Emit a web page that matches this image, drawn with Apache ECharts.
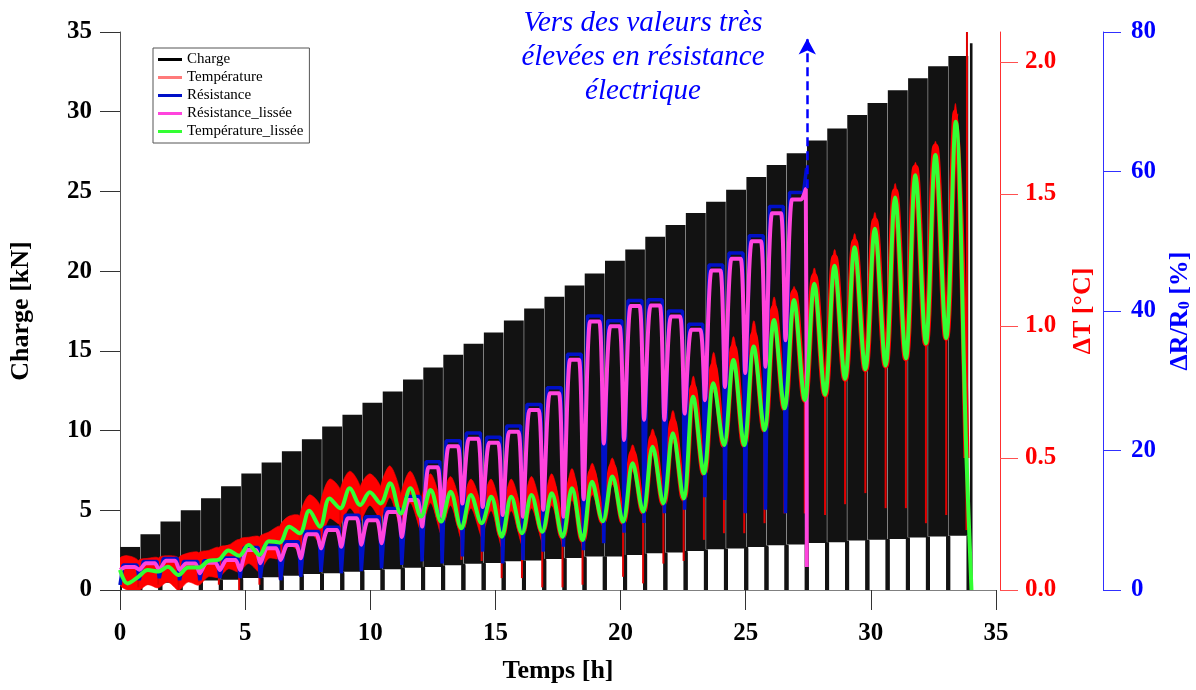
<!DOCTYPE html>
<html><head><meta charset="utf-8">
<script src="https://cdn.jsdelivr.net/npm/echarts@6/dist/echarts.min.js"></script>
<style>html,body{margin:0;padding:0;background:#fff}#c{width:1196px;height:690px}</style>
</head><body><div id="c"></div>
<script>
// ---- data ----
// cycle boundaries [h]
const boundaries = [0,0.81,1.61,2.42,3.23,4.03,4.84,5.65,6.46,7.26,8.07,8.88,9.68,10.49,11.30,12.11,12.91,13.72,14.53,15.33,16.14,16.95,17.76,18.56,19.37,20.18,20.98,21.79,22.60,23.41,24.21,25.02,25.83,26.63,27.44,28.25,29.05,29.86,30.67,31.48,32.28,33.09,33.90];
// Charge [kN] per loading block (max / min of the cycling)
const chargeMax = [2.7,3.5,4.3,5.0,5.75,6.5,7.3,8.0,8.7,9.45,10.25,11.0,11.75,12.45,13.2,13.95,14.75,15.45,16.15,16.9,17.65,18.4,19.1,19.85,20.65,21.35,22.15,22.9,23.65,24.35,25.1,25.9,26.65,27.4,28.2,28.95,29.8,30.55,31.35,32.1,32.85,33.5];
const chargeMin = [0.3,0.35,0.45,0.55,0.6,0.65,0.75,0.8,0.9,1.0,1.05,1.15,1.25,1.3,1.4,1.45,1.55,1.65,1.7,1.8,1.85,1.95,2.0,2.1,2.1,2.2,2.3,2.35,2.45,2.55,2.6,2.7,2.8,2.85,2.95,3.0,3.1,3.15,3.2,3.3,3.35,3.4];
const chargeFinalSpike = [33.95, 34.07, 0, 34.3];
// Température_lissée [°C]: value at each boundary (trough) and peak of each cycle
const tempLisseeTrough = [0.076,0.05,0.07,0.057,0.085,0.115,0.13,0.133,0.18,0.215,0.24,0.31,0.322,0.328,0.29,0.278,0.259,0.234,0.253,0.202,0.215,0.221,0.202,0.189,0.26,0.259,0.297,0.328,0.347,0.442,0.549,0.549,0.606,0.688,0.72,0.74,0.80,0.836,0.85,0.878,0.934,0.955,0.5];
const tempLisseePeak = [0.025,0.076,0.088,0.085,0.11,0.15,0.17,0.185,0.24,0.30,0.347,0.385,0.37,0.404,0.385,0.379,0.372,0.36,0.353,0.353,0.36,0.366,0.385,0.41,0.43,0.48,0.543,0.594,0.732,0.783,0.871,0.922,1.023,1.098,1.16,1.228,1.298,1.368,1.487,1.571,1.648,1.774];
const tempLisseeTail = [[34.02, 0]];
// Température (raw, noisy) [°C]: upper / lower envelope at each cycle peak and at each boundary, dips at boundaries
const tempTop = [0.13,0.12,0.13,0.14,0.15,0.17,0.2,0.22,0.28,0.36,0.42,0.45,0.44,0.47,0.45,0.44,0.43,0.42,0.42,0.42,0.43,0.44,0.46,0.48,0.5,0.55,0.61,0.68,0.81,0.9,0.96,1.02,1.11,1.15,1.22,1.29,1.35,1.43,1.54,1.62,1.70,1.84];
const tempLow = [0.0,0.02,0.03,0.03,0.05,0.08,0.1,0.12,0.17,0.22,0.27,0.31,0.32,0.35,0.33,0.33,0.32,0.31,0.30,0.30,0.31,0.32,0.34,0.36,0.40,0.45,0.51,0.56,0.70,0.75,0.84,0.89,0.99,1.06,1.12,1.19,1.26,1.33,1.45,1.53,1.61,1.73];
const tempTopAtBoundary = [0.12,0.11,0.12,0.12,0.14,0.16,0.19,0.2,0.24,0.28,0.32,0.38,0.39,0.39,0.36,0.34,0.32,0.30,0.31,0.27,0.28,0.28,0.26,0.25,0.3,0.29,0.32,0.34,0.36,0.45,0.56,0.56,0.62,0.7,0.73,0.75,0.81,0.85,0.86,0.89,0.94,0.96,0.5];
const tempLowAtBoundary = [0.02,0.0,0.01,0.0,0.02,0.05,0.07,0.07,0.12,0.15,0.18,0.25,0.26,0.27,0.23,0.22,0.21,0.19,0.2,0.16,0.17,0.18,0.17,0.16,0.24,0.24,0.28,0.32,0.34,0.43,0.54,0.54,0.6,0.68,0.71,0.73,0.79,0.83,0.84,0.87,0.93,0.95,0.5];
// Température: mid-line of the noise at each cycle peak (red halo around the smoothed curve)
const tempMid = [0.07,0.09,0.1,0.1,0.12,0.16,0.18,0.2,0.26,0.33,0.38,0.41,0.4,0.43,0.41,0.4,0.39,0.38,0.38,0.38,0.39,0.4,0.42,0.45,0.47,0.52,0.58,0.64,0.77,0.85,0.92,0.97,1.07,1.13,1.19,1.26,1.32,1.40,1.51,1.60,1.68,1.81];
const tempDip = [0.02,0.01,0.02,0.0,0.03,0.02,0.0,0.02,0.04,0.06,0.1,0.12,0.2,0.2,0.18,0.16,0.15,0.114,0.11,0.045,0.045,0.01,0.01,0.02,0.178,0.05,0.025,0.1,0.11,0.19,0.215,0.215,0.253,0.29,0.29,0.284,0.325,0.367,0.31,0.31,0.253,0.284,0.227];
const tempFinalSpike = [33.84, 0.25, 2.3];
// Résistance_lissée [%]: trough at boundaries, plateau of each cycle
const resLisseeTrough = [2.87,2.9,2.87,2.87,2.4,2.87,2.87,3.82,4.3,4.54,5.97,6.2,6.5,6.7,7.6,9.1,10.5,12.4,11.9,10.75,10.5,11.5,10.5,13.0,21.0,21.5,24.4,24.4,25.3,27.2,29.1,31.1,32.0,35.8];
const resLisseePeak = [3.3,3.82,4.2,3.8,3.9,4.3,5.73,6.0,6.45,8.0,8.6,10.3,10.0,11.2,12.9,17.6,20.6,21.7,21.1,22.7,25.8,28.2,33.0,38.5,37.8,40.7,40.8,39.2,37.3,45.8,47.5,50.0,54.0,56.0];
const resLisseeTail = [[27.40, 57.5], [27.44, 3.3]];
// Résistance (raw) [%]: deep troughs at boundaries, plateau of each cycle
const resDeep = [0.7,1.4,1.7,1.4,1.4,1.7,1.7,1.7,1.4,1.9,2.6,2.4,2.7,3.1,3.6,4.1,3.8,4.8,5.5,3.8,4.3,5.5,6.2,5.7,6.7,8.2,9.6,11.0,11.5,13.3,12.9,11.0,11.5,11.0];
const resPeak = [3.6,4.1,4.5,4.1,4.2,4.6,6.1,6.4,6.9,8.4,9.0,10.7,10.5,11.7,13.4,18.4,21.4,22.5,21.9,23.5,26.6,29.0,33.8,39.3,38.6,41.5,41.6,40.0,38.1,46.6,48.3,50.8,55.0,57.0];
const resTail = [[27.43, 60.5]];
// annotation arrow [h, kN]
const arrowX = 27.46, arrowFrom = 25.2, arrowTo = 34.6;

const xTicks = [0,5,10,15,20,25,30,35];
const tTicks = [0,0.5,1.0,1.5,2.0];

// ---- build series data from the readings ----
const chargeData = chargeMax.map((m, i) => [boundaries[i], boundaries[i+1], chargeMin[i], m]);
chargeData.push(chargeFinalSpike);

function cyclePts(first, peaks, troughs, tail) {
  const pts = [[boundaries[0], first]];
  for (let k = 1; k <= peaks.length; k++) {
    pts.push([boundaries[k-1] + 0.3, peaks[k-1]]);
    pts.push([boundaries[k] - 0.08, troughs[k]]);
  }
  if (tail) pts.push(...tail);
  return pts;
}
const greenPts = cyclePts(tempLisseeTrough[0], tempLisseePeak, tempLisseeTrough, tempLisseeTail);
const redMidPts = cyclePts(tempLisseeTrough[0], tempMid, tempLisseeTrough, null);

const bandData = tempTop.map((top, i) => {
  const k = i + 1;
  const tL = k === 1 ? boundaries[0] : boundaries[k-1] - 0.08;
  return [tL, boundaries[k-1] + 0.3, boundaries[k] - 0.08,
          tempTopAtBoundary[k-1], top, tempTopAtBoundary[k],
          tempLowAtBoundary[k], tempLow[i], tempLowAtBoundary[k-1]];
});
const dipData = tempDip.map((d, k) => [k === 0 ? boundaries[0] + 0.05 : boundaries[k] - 0.08, tempLisseeTrough[k], d]);
dipData.push(tempFinalSpike);

const magPts = [[boundaries[0], resLisseeTrough[0]]];
for (let k = 1; k <= resLisseePeak.length; k++) {
  magPts.push([boundaries[k-1] + 0.22, resLisseePeak[k-1]]);
  magPts.push([boundaries[k] - 0.22, resLisseePeak[k-1]]);
  if (k < resLisseePeak.length) magPts.push([boundaries[k] - 0.04, resLisseeTrough[k]]);
}
magPts.push(...resLisseeTail);

const bluePts = [[boundaries[0], resDeep[0]]];
for (let k = 1; k <= resPeak.length; k++) {
  bluePts.push([boundaries[k-1] + 0.12, resPeak[k-1]]);
  bluePts.push([boundaries[k] - 0.13, resPeak[k-1]]);
  if (k < resPeak.length) bluePts.push([boundaries[k] - 0.04, resDeep[k]]);
}
bluePts.push(...resTail);

// ---- chart ----
const SERIF = '"Liberation Serif","Times New Roman",serif';
const BLACK = '#121212';
const chart = echarts.init(document.getElementById('c'), null, {renderer: 'canvas'});

function renderCharge(params, api) {
  const s = api.value(0), e = api.value(1), lo = api.value(2), hi = api.value(3);
  const pTop = api.coord([s, hi]);
  const pBot = api.coord([e, lo]);
  const z0 = api.coord([s, 0]);
  const gap = 0.2, barW = 4;
  const children = [
    {type: 'rect', shape: {x: pTop[0] + gap, y: pTop[1], width: Math.max(1, pBot[0] - pTop[0] - 2 * gap), height: pBot[1] - pTop[1]}, style: {fill: BLACK}}
  ];
  if (lo > 0) {
    children.push({type: 'rect', shape: {x: pTop[0] - barW / 2, y: pBot[1], width: barW, height: z0[1] - pBot[1]}, style: {fill: BLACK}});
    children.push({type: 'rect', shape: {x: pBot[0] - barW / 2, y: pBot[1], width: barW, height: z0[1] - pBot[1]}, style: {fill: BLACK}});
  }
  return {type: 'group', children};
}
function renderBand(params, api) {
  const pts = [
    api.coord([api.value(0), api.value(3)]),
    api.coord([api.value(1), api.value(4)]),
    api.coord([api.value(2), api.value(5)]),
    api.coord([api.value(2), api.value(6)]),
    api.coord([api.value(1), api.value(7)]),
    api.coord([api.value(0), api.value(8)])
  ];
  return {type: 'polygon', shape: {points: pts, smooth: 0.3}, style: {fill: '#ff0000', stroke: '#ff0000', lineWidth: 0.6}};
}
function renderDip(params, api) {
  const a = api.coord([api.value(0), api.value(1)]);
  const b = api.coord([api.value(0), api.value(2)]);
  return {type: 'line', shape: {x1: a[0], y1: a[1], x2: b[0], y2: b[1]}, style: {stroke: '#e00000', lineWidth: 2}};
}

const labelFont = {fontFamily: SERIF, fontWeight: 'bold', fontSize: 25};
const nameFont = {fontFamily: SERIF, fontWeight: 'bold', fontSize: 26};

const option = {
  animation: false,
  backgroundColor: '#fff',
  grid: {left: 120, right: 200, top: 32, bottom: 100, containLabel: false, outerBoundsMode: 'none'},
  xAxis: {
    type: 'value', min: 0, max: 35, interval: 5,
    name: 'Temps [h]', nameLocation: 'middle', nameGap: 68,
    nameTextStyle: Object.assign({color: '#000'}, nameFont),
    axisLine: {show: true, onZero: false, lineStyle: {color: '#808080', width: 1}},
    axisTick: {show: true, length: 20, lineStyle: {color: '#333'}},
    axisLabel: Object.assign({color: '#000', margin: 31, customValues: xTicks}, labelFont),
    splitLine: {show: false}
  },
  yAxis: [
    {
      type: 'value', position: 'left', min: 0, max: 35, interval: 5,
      name: 'Charge [kN]', nameLocation: 'middle', nameRotate: 90, nameGap: 86,
      nameTextStyle: Object.assign({color: '#000'}, nameFont),
      axisLine: {show: true, onZero: false, lineStyle: {color: '#555', width: 1}},
      axisTick: {show: true, length: 20, lineStyle: {color: '#333'}},
      axisLabel: Object.assign({color: '#000', margin: 28}, labelFont),
      splitLine: {show: false}
    },
    {
      type: 'value', position: 'right', offset: 4, min: 0, max: 2.1136, interval: 0.5,
      name: 'ΔT [°C]', nameLocation: 'middle', nameRotate: 90, nameGap: 70,
      nameTextStyle: Object.assign({color: '#ff0000'}, nameFont),
      axisLine: {show: true, onZero: false, lineStyle: {color: '#ff3030', width: 1}},
      axisTick: {show: true, length: 18, lineStyle: {color: '#ff5050'}, customValues: tTicks},
      axisLabel: Object.assign({color: '#ff0000', margin: 25, customValues: tTicks, formatter: v => v.toFixed(1)}, labelFont),
      splitLine: {show: false}
    },
    {
      type: 'value', position: 'right', offset: 107, min: 0, max: 80, interval: 20,
      name: '{a|ΔR/R}{s|0}{a| [%]}', nameLocation: 'middle', nameRotate: 90, nameGap: 62,
      nameTextStyle: {color: '#0000ff', fontFamily: SERIF, fontWeight: 'bold', fontSize: 26,
        rich: {a: {color: '#0000ff', fontFamily: SERIF, fontWeight: 'bold', fontSize: 26},
               s: {color: '#0000ff', fontFamily: SERIF, fontWeight: 'bold', fontSize: 16, verticalAlign: 'bottom', padding: [0, 0, 0, 0]}}},
      axisLine: {show: true, onZero: false, lineStyle: {color: '#3030ff', width: 1}},
      axisTick: {show: true, length: 18, lineStyle: {color: '#3030ff'}},
      axisLabel: Object.assign({color: '#0000ff', margin: 28}, labelFont),
      splitLine: {show: false}
    }
  ],
  legend: {
    orient: 'vertical', left: 153, top: 48, icon: 'rect', itemWidth: 24, itemHeight: 3, itemGap: 3,
    padding: [4, 6, 4, 5], backgroundColor: '#fff', borderColor: '#555', borderWidth: 1, borderRadius: 0,
    textStyle: {fontFamily: SERIF, fontSize: 15, color: '#000'},
    data: [
      {name: 'Charge', itemStyle: {color: '#000'}},
      {name: 'Température', itemStyle: {color: '#ff7a7a'}},
      {name: 'Résistance', itemStyle: {color: '#0010c8'}},
      {name: 'Résistance_lissée', itemStyle: {color: '#ff44dd'}},
      {name: 'Température_lissée', itemStyle: {color: '#33ff33'}}
    ]
  },
  graphic: [{
    type: 'text', x: 643, y: 6, z: 100,
    style: {text: 'Vers des valeurs très\nélevées en résistance\nélectrique', fill: '#0000ff',
      font: 'italic 29px "Liberation Serif"', align: 'center', verticalAlign: 'top', lineHeight: 34}
  }],
  series: [
    {name: 'Charge', type: 'custom', xAxisIndex: 0, yAxisIndex: 0, clip: true, renderItem: renderCharge,
     itemStyle: {color: BLACK}, encode: {x: [0, 1], y: [2, 3]}, data: chargeData, silent: true},
    {name: 'Température', type: 'custom', xAxisIndex: 0, yAxisIndex: 1, clip: true, renderItem: renderBand,
     itemStyle: {color: '#ff0000'}, encode: {x: [0, 1, 2], y: [3, 4, 5, 6, 7, 8]}, data: bandData, silent: true},
    {name: 'Température', type: 'line', xAxisIndex: 0, yAxisIndex: 1, showSymbol: false, symbol: 'none', smooth: 0.35,
     lineStyle: {color: '#ff0000', width: 6}, itemStyle: {color: '#ff0000'}, data: redMidPts, silent: true},
    {name: 'Température', type: 'custom', xAxisIndex: 0, yAxisIndex: 1, clip: true, renderItem: renderDip,
     itemStyle: {color: '#ff0000'}, encode: {x: 0, y: [1, 2]}, data: dipData, silent: true},
    {name: 'Résistance', type: 'line', xAxisIndex: 0, yAxisIndex: 2, showSymbol: false, symbol: 'none',
     lineStyle: {color: '#0010c8', width: 3.5}, itemStyle: {color: '#0010c8'}, data: bluePts, silent: true},
    {name: 'Résistance_lissée', type: 'line', xAxisIndex: 0, yAxisIndex: 2, showSymbol: false, symbol: 'none', smooth: 0.2,
     lineStyle: {color: '#ff44dd', width: 4}, itemStyle: {color: '#ff44dd'}, data: magPts, silent: true},
    {name: 'Température_lissée', type: 'line', xAxisIndex: 0, yAxisIndex: 1, showSymbol: false, symbol: 'none', smooth: 0.35,
     lineStyle: {color: '#33ff33', width: 4}, itemStyle: {color: '#33ff33'}, data: greenPts, silent: true},
    {name: 'arrow', type: 'line', xAxisIndex: 0, yAxisIndex: 0, showSymbol: false, symbol: 'none', data: [],
     lineStyle: {width: 0}, silent: true,
     markLine: {silent: true, symbol: ['none', 'arrow'], symbolSize: [13, 16], label: {show: false},
       lineStyle: {color: '#0000ff', width: 2.5, type: [9, 5]},
       data: [[{coord: [arrowX, arrowFrom]}, {coord: [arrowX, arrowTo]}]]}}
  ]
};
chart.setOption(option);
</script>
</body></html>
